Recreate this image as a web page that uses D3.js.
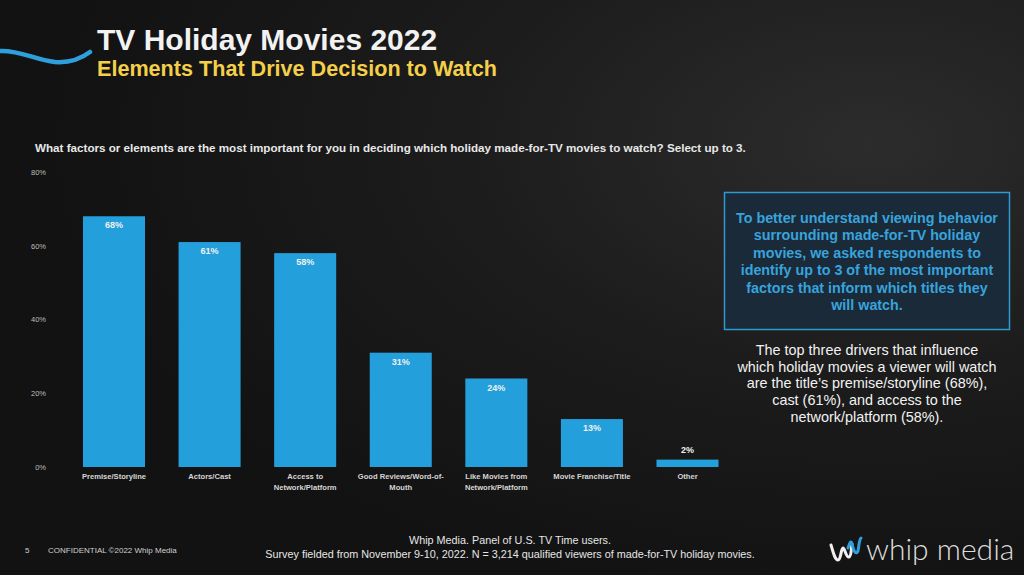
<!DOCTYPE html>
<html><head><meta charset="utf-8">
<script src="https://cdn.jsdelivr.net/npm/d3@7"></script>
<style>
html,body{margin:0;padding:0;background:#141414;}
svg{display:block;}
</style></head>
<body>
<svg id="chart" width="1024" height="575"></svg>
<script>
const categories = [
  ["Premise/Storyline"],
  ["Actors/Cast"],
  ["Access to","Network/Platform"],
  ["Good Reviews/Word-of-","Mouth"],
  ["Like Movies from","Network/Platform"],
  ["Movie Franchise/Title"],
  ["Other"]
];
const values = [68, 61, 58, 31, 24, 13, 2];
const yTicks = [0, 20, 40, 60, 80];
const boxLines = [
  "To better understand viewing behavior",
  "surrounding made-for-TV holiday",
  "movies, we asked respondents to",
  "identify up to 3 of the most important",
  "factors that inform which titles they",
  "will watch."
];
const paraLines = [
  "The top three drivers that influence",
  "which holiday movies a viewer will watch",
  "are the title\u2019s premise/storyline (68%),",
  "cast (61%), and access to the",
  "network/platform (58%)."
];
const footLines = [
  "Whip Media. Panel of U.S. TV Time users.",
  "Survey fielded from November 9-10, 2022. N = 3,214 qualified viewers of made-for-TV holiday movies."
];

const svg = d3.select("#chart");
const defs = svg.append("defs");
const bg = defs.append("radialGradient").attr("id","bg").attr("cx","0.85").attr("cy","0.25").attr("r","0.8");
bg.append("stop").attr("offset","0").attr("stop-color","#2c2c2c");
bg.append("stop").attr("offset","0.5").attr("stop-color","#1c1c1c");
bg.append("stop").attr("offset","1").attr("stop-color","#121212");
svg.append("rect").attr("width",1024).attr("height",575).attr("fill","url(#bg)");

// swoosh
svg.append("path")
  .attr("d","M0,51 C20,50 35,60 55,62 C70,63 82,58 90,52")
  .attr("fill","none").attr("stroke","#2d9fdc").attr("stroke-width",4.5).attr("stroke-linecap","round");

const font = "'Liberation Sans', Arial, sans-serif";
svg.append("text").attr("x",97).attr("y",50).attr("font-family",font).attr("font-weight","bold")
  .attr("font-size",30).attr("fill","#f2f2f2").text("TV Holiday Movies 2022");
svg.append("text").attr("x",97).attr("y",76).attr("font-family",font).attr("font-weight","bold")
  .attr("font-size",21.6).attr("fill","#f3cf4a").text("Elements That Drive Decision to Watch");

svg.append("text").attr("x",35).attr("y",152).attr("font-family",font).attr("font-weight","bold")
  .attr("font-size",11.65).attr("fill","#e8e8e8")
  .text("What factors or elements are the most important for you in deciding which holiday made-for-TV movies to watch? Select up to 3.");

// scales
const x = d3.scaleBand().domain(d3.range(values.length)).range([66.2, 735.3]).paddingInner(0.351).paddingOuter(0.1755);
const y = d3.scaleLinear().domain([0, 80]).range([467, 172]);

const yAxis = svg.append("g").attr("transform","translate(46,0)")
  .call(d3.axisLeft(y).tickValues(yTicks).tickFormat(d => d + "%").tickSize(0).tickPadding(0));
yAxis.select(".domain").remove();
yAxis.selectAll("text").attr("font-family",font).attr("font-size",7.5).attr("fill","#bdbdbd");

const g = svg.append("g");
g.selectAll("rect.bar").data(values).join("rect").attr("class","bar")
  .attr("x",(d,i)=>x(i)).attr("width",x.bandwidth())
  .attr("y",d=>y(d)).attr("height",d=>y(0)-y(d)).attr("fill","#239fdc");

g.selectAll("text.val").data(values).join("text").attr("class","val")
  .attr("x",(d,i)=>x(i)+x.bandwidth()/2)
  .attr("y",d=> d < 5 ? y(d)-7 : y(d)+12)
  .attr("text-anchor","middle").attr("font-family",font).attr("font-weight","bold")
  .attr("font-size",9).attr("fill","#f0f0f0").text(d=>d+"%");

const xAxis = svg.append("g").attr("transform","translate(0,"+y(0)+")")
  .call(d3.axisBottom(x).tickSize(0).tickFormat(()=>""));
xAxis.select(".domain").remove();
xAxis.selectAll(".tick text").each(function(d){
  const t = d3.select(this).attr("y",0).attr("dy",null);
  t.attr("font-family",font).attr("font-weight","bold").attr("font-size",7.6).attr("fill","#d6d6d6");
  categories[d].forEach((ln,k)=>{
    t.append("tspan").attr("x",0).attr("y",12 + k*10.5).text(ln);
  });
});

// box
svg.append("rect").attr("x",724.5).attr("y",192.5).attr("width",285).attr("height",137)
  .attr("fill","#1a2a38").attr("stroke","#2f9ad0").attr("stroke-width",1.5);
const bt = svg.append("text").attr("text-anchor","middle").attr("font-family",font).attr("font-weight","bold")
  .attr("font-size",14.3).attr("fill","#38a3dc");
boxLines.forEach((ln,k)=>bt.append("tspan").attr("x",867).attr("y",223 + k*17.4).text(ln));

const pt = svg.append("text").attr("text-anchor","middle").attr("font-family",font)
  .attr("font-size",14.4).attr("fill","#f2f2f2");
paraLines.forEach((ln,k)=>pt.append("tspan").attr("x",867).attr("y",355 + k*16.7).text(ln));

// footer
svg.append("text").attr("x",25).attr("y",553).attr("font-family",font).attr("font-size",8).attr("fill","#d0d0d0").text("5");
svg.append("text").attr("x",48).attr("y",553).attr("font-family",font).attr("font-size",8).attr("fill","#d0d0d0").text("CONFIDENTIAL \u00a92022 Whip Media");
const ft = svg.append("text").attr("text-anchor","middle").attr("font-family",font)
  .attr("font-size",10.8).attr("fill","#e6e6e6");
footLines.forEach((ln,k)=>ft.append("tspan").attr("x",510).attr("y",544 + k*14).text(ln));

// logo
const lg = svg.append("g");
lg.append("path").attr("d","M831,545 C833,552 835,560 838,560 C841,560 841,548 843,548 C845,548 846,558 849,557 C852,556 851,546 852,544")
  .attr("fill","none").attr("stroke","#f0f0f0").attr("stroke-width",3).attr("stroke-linecap","round");
lg.append("path").attr("d","M848,548 C850,542 851,540 852,544 M852,544 C854,552 856,555 858,551 C859,546 859,540 861,538")
  .attr("fill","none").attr("stroke","#2d9fdc").attr("stroke-width",3).attr("stroke-linecap","round");
svg.append("text").attr("x",866).attr("y",560).attr("font-family","Lato, 'Open Sans', sans-serif").attr("font-weight",300)
  .attr("font-size",30).attr("fill","#dcdcdc").text("whip media");
</script>
</body></html>
